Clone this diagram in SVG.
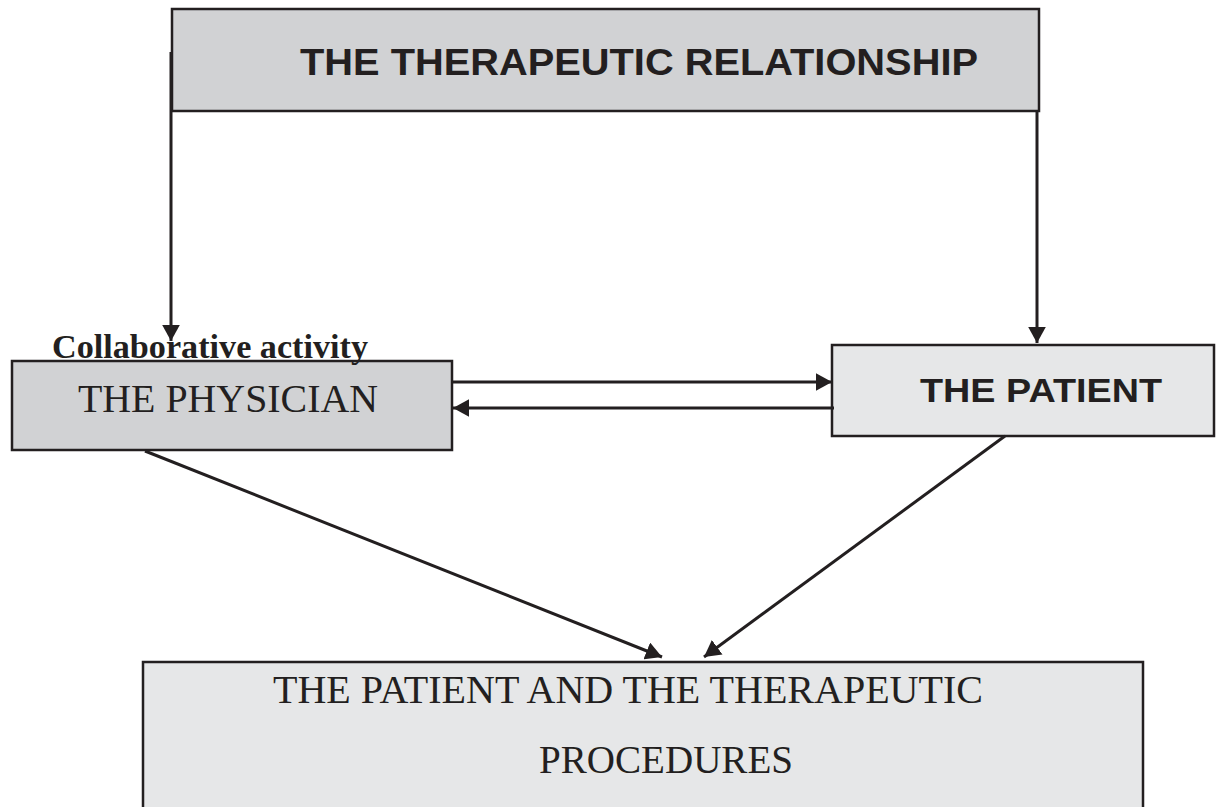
<svg xmlns="http://www.w3.org/2000/svg" width="1216" height="807" viewBox="0 0 1216 807">
<style>
.box{stroke:#231f20;stroke-width:2.5}
.dark{fill:#d1d2d4}
.light{fill:#e6e7e8}
.sans{font-family:"Liberation Sans",Arial,sans-serif;font-weight:bold;fill:#231f20}
.serif{font-family:"Liberation Serif","Times New Roman",serif;fill:#231f20}
.conn{stroke:#231f20;stroke-width:3;fill:none;marker-end:url(#ah)}
</style>
<defs>
<marker id="ah" viewBox="0 0 10 11" refX="10" refY="5.5" markerWidth="5.5" markerHeight="6" markerUnits="strokeWidth" orient="auto">
<path d="M0,0 L10,5.5 L0,11 z" fill="#231f20"/>
</marker>
</defs>
<g id="top">
<rect class="box dark" x="172" y="9" width="867" height="102"/>
<text class="sans" x="639" y="75" font-size="37" text-anchor="middle" textLength="678" lengthAdjust="spacingAndGlyphs">THE THERAPEUTIC RELATIONSHIP</text>
</g>
<g id="physician">
<rect class="box dark" x="12" y="361" width="440" height="89"/>
<text class="serif" x="228" y="412" font-size="40" text-anchor="middle" textLength="300" lengthAdjust="spacingAndGlyphs">THE PHYSICIAN</text>
</g>
<g id="label">
<text class="serif" x="52" y="358" font-size="34" font-weight="bold" textLength="316" lengthAdjust="spacingAndGlyphs">Collaborative activity</text>
</g>
<g id="patient">
<rect class="box light" x="832" y="345" width="382" height="91"/>
<text class="sans" x="1041" y="402" font-size="34" text-anchor="middle" textLength="242" lengthAdjust="spacingAndGlyphs">THE PATIENT</text>
</g>
<g id="procedures">
<rect class="box light" x="143" y="662" width="1000" height="160"/>
<text class="serif" x="628" y="703" font-size="39" text-anchor="middle" textLength="710" lengthAdjust="spacingAndGlyphs">THE PATIENT AND THE THERAPEUTIC</text>
<text class="serif" x="666" y="773" font-size="39" text-anchor="middle" textLength="254" lengthAdjust="spacingAndGlyphs">PROCEDURES</text>
</g>
<g id="connectors">
<path class="conn" d="M171,52 V341"/>
<path class="conn" d="M1037,111 V343"/>
<path class="conn" d="M452,382 H832"/>
<path class="conn" d="M834,408 H453"/>
<path class="conn" d="M145,451 L662,657"/>
<path class="conn" d="M1005,436 L704,657"/>
</g>
</svg>
